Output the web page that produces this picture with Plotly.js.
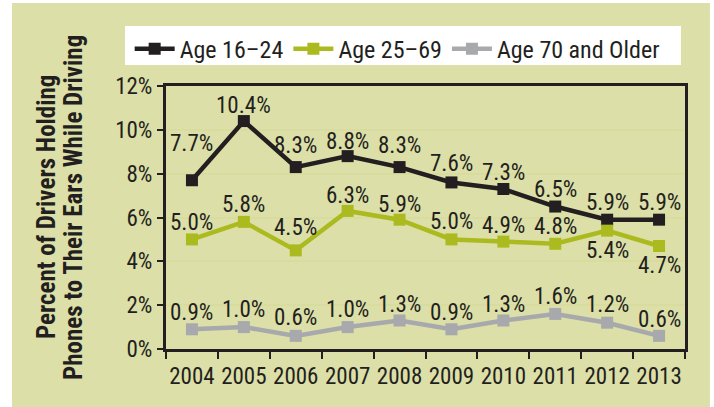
<!DOCTYPE html>
<html>
<head>
<meta charset="utf-8">
<script src="https://cdn.plot.ly/plotly-3.0.1.min.js"></script>
<style>html,body{margin:0;padding:0;background:#fff;}#chart{width:714px;height:407px;}</style>
</head>
<body>
<div id="chart"></div>
<script>
const years = [2004, 2005, 2006, 2007, 2008, 2009, 2010, 2011, 2012, 2013];
const seriesNames = ['Age 16\u201324', 'Age 25\u201369', 'Age 70 and Older'];
const age16to24 = [7.7, 10.4, 8.3, 8.8, 8.3, 7.6, 7.3, 6.5, 5.9, 5.9];
const age25to69 = [5.0, 5.8, 4.5, 6.3, 5.9, 5.0, 4.9, 4.8, 5.4, 4.7];
const age70plus = [0.9, 1.0, 0.6, 1.0, 1.3, 0.9, 1.3, 1.6, 1.2, 0.6];
const yTickVals = [0, 2, 4, 6, 8, 10, 12];
const yTickText = ['0%', '2%', '4%', '6%', '8%', '10%', '12%'];
const yTitleLines = ['Percent of Drivers Holding', 'Phones to Their Ears While Driving'];

// label offsets (px, up positive) — layout only
const shift16 = [37, 16, 22, 15, 22, 19, 17, 17, 17, 17];
const shift25 = [17, 17, 23, 15, 15, 18, 16, 17, -20, -20];
const shift70 = [17, 18, 18, 18, 16, 17, 16, 17, 18, 16];

const FONT = '"Roboto Condensed", Roboto, sans-serif';
const TXT = '#231f20';
const colors = ['#231f20', '#abbb1f', '#a7a9ac'];
const series = [age16to24, age25to69, age70plus];
const shifts = [shift16, shift25, shift70];

const traces = series.map((vals, i) => ({
  type: 'scatter', mode: 'lines+markers', x: years, y: vals, name: seriesNames[i],
  line: {color: colors[i], width: 4.5},
  marker: {symbol: 'square', size: 12, color: colors[i]},
  cliponaxis: false
}));

const annotations = [];
series.forEach((vals, i) => {
  vals.forEach((v, j) => {
    annotations.push({
      x: years[j], y: v, xref: 'x', yref: 'y', text: v.toFixed(1) + '%',
      showarrow: false, yshift: shifts[i][j], xanchor: 'center', yanchor: 'middle',
      font: {family: FONT, size: 23, color: TXT}
    });
  });
});
const titleX = [-0.2293, -0.1773];
yTitleLines.forEach((t, k) => {
  annotations.push({
    xref: 'paper', yref: 'paper', x: titleX[k], y: 0.54, textangle: -90,
    text: '<b>' + t + '</b>', showarrow: false, xanchor: 'center', yanchor: 'middle',
    font: {family: FONT, size: 25, color: TXT}
  });
});

const layout = {
  width: 714, height: 407,
  margin: {l: 166, r: 29, t: 86, b: 58, pad: 0},
  paper_bgcolor: '#ffffff', plot_bgcolor: '#ffffff',
  font: {family: FONT, size: 22, color: TXT},
  showlegend: true,
  legend: {
    orientation: 'h', x: -0.07, xanchor: 'left', y: 1.226, yanchor: 'top',
    bgcolor: 'rgba(0,0,0,0)', borderwidth: 0,
    font: {family: FONT, size: 24, color: TXT},
    itemwidth: 40, traceorder: 'normal'
  },
  xaxis: {
    type: 'linear', range: [2003.5, 2013.5], tickmode: 'array', tickvals: years,
    ticktext: years.map(String), ticks: '', showline: true, linecolor: TXT, linewidth: 3,
    mirror: true, showgrid: false, zeroline: false, fixedrange: true, ticklabelstandoff: 4,
    tickfont: {family: FONT, size: 23, color: TXT},
    minor: {ticks: 'outside', ticklen: 7, tickwidth: 2, tickcolor: TXT,
            tickmode: 'linear', tick0: 2003.5, dtick: 1, showgrid: false}
  },
  yaxis: {
    range: [0, 12], tickmode: 'array', tickvals: yTickVals, ticktext: yTickText, ticks: 'outside',
    ticklen: 6, tickwidth: 2, tickcolor: TXT, showline: true, linecolor: TXT, linewidth: 3,
    mirror: true, showgrid: true, gridcolor: '#d9dc9f', gridwidth: 2, zeroline: false,
    tickfont: {family: FONT, size: 23, color: TXT}, fixedrange: true
  },
  shapes: [
    {type: 'rect', xref: 'paper', yref: 'paper', x0: -0.2967, x1: 1.048, y0: -0.2205, y1: 1.3156,
     fillcolor: '#dcdfa7', line: {width: 0}, layer: 'below'},
    {type: 'rect', xref: 'paper', yref: 'paper', x0: -0.079, x1: 0.9923, y0: 1.0798, y1: 1.228,
     fillcolor: '#ffffff', line: {width: 0}, layer: 'below'}
  ],
  annotations: annotations
};

Plotly.newPlot('chart', traces, layout, {displayModeBar: false, staticPlot: true});
</script>
</body>
</html>
